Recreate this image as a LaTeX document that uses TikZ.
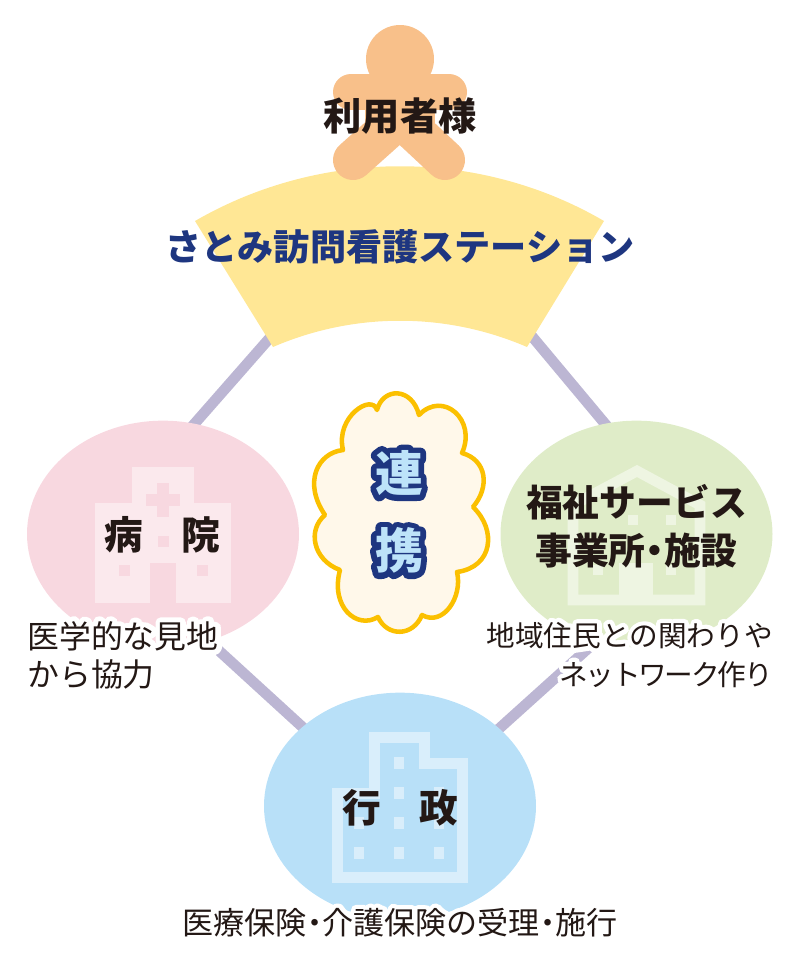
\documentclass[tikz,border=0pt]{standalone}
\usepackage{fontspec}
\usepackage{xcolor}
\usetikzlibrary{shapes.geometric, backgrounds}
\newfontfamily\jpfont{Noto Sans CJK JP}
\newfontfamily\jptight[LetterSpace=-8]{Noto Sans CJK JP}
\newfontfamily\jphalo[FakeBold=32]{Noto Sans CJK JP}
\newfontfamily\jphalotight[FakeBold=32, LetterSpace=-8]{Noto Sans CJK JP}
\newfontfamily\jpedge[FakeBold=24]{Noto Sans CJK JP}
\definecolor{skinc}{HTML}{F8C08A}
\definecolor{fanc}{HTML}{FFE795}
\definecolor{linkc}{HTML}{BCB6D3}
\definecolor{navyc}{HTML}{1E3680}
\definecolor{inkc}{HTML}{231815}
\definecolor{pinkc}{HTML}{F8D8E0}
\definecolor{pinklt}{HTML}{FBE9ED}
\definecolor{greenc}{HTML}{DFECC8}
\definecolor{greenlt}{HTML}{EEF5E2}
\definecolor{bluec}{HTML}{B8E0F8}
\definecolor{bluelt}{HTML}{D9EEFB}
\definecolor{cloudc}{HTML}{FFF8EA}
\definecolor{cloudedge}{HTML}{FBC000}
\definecolor{renkeic}{HTML}{BDE3F9}
\newcommand{\halotext}[1]{\rlap{\jphalo\color{white}#1}#1}
\newcommand{\halotight}[1]{\rlap{\jphalotight\color{white}#1}{\jptight #1}}
\newcommand{\dotmark}{\kern-.25em・\kern-.25em}
\begin{document}
\begin{tikzpicture}[
        x=0.75pt, y=-0.75pt, % coordinates are reference pixels
        line join=round,
        area/.style={ellipse, inner sep=0pt, minimum width=204pt, minimum height=170pt},
        title/.style={font=\jpfont\bfseries\fontsize{27.6}{36}\selectfont, text=inkc, align=center, inner sep=0pt},
        caption/.style={font=\jpfont\fontsize{23.9}{29}\selectfont, text=inkc, inner sep=0pt},
        linkline/.style={linkc, line width=8pt, shorten <=-4pt, shorten >=-4pt},
        limb/.style={skinc, line cap=round},
    ]
        \useasboundingbox (0,0) rectangle (800,967);

        % --- 1. Station fan ---
        \fill[fanc] (195,221) .. controls (321,148) and (479,148) .. (604,221)
            -- (527,347) .. controls (446,312) and (354,312) .. (273,347) -- cycle;
        \coordinate (fanLeft) at (275,332);
        \coordinate (fanRight) at (525,328);

        % --- 2. Person on top of the fan ---
        \fill[skinc] (400,59) circle (34);
        \fill[skinc] (365,90) rectangle (435,130);
        \draw[limb, line width=27pt] (351,92) -- (449,92);
        \draw[limb, line width=30pt] (400,118) -- (353,160);
        \draw[limb, line width=30pt] (400,118) -- (445,160);

        % --- 3. The three areas ---
        \node[area, fill=pinkc] (hospital) at (163,534) {};
        \node[area, fill=greenc] (welfare) at (636.5,534) {};
        \node[area, fill=bluec] (city) at (400,806) {};

        % --- 4. Connectors behind everything ---
        \begin{scope}[on background layer]
            \draw[linkline] (fanLeft) -- (hospital.74);
            \draw[linkline] (fanRight) -- (welfare.106);
            \draw[linkline] (hospital.-67) -- (city.141.5);
            \draw[linkline] (welfare.-111.5) -- (city.38.5);
        \end{scope}

        % --- 5. Hospital icon ---
        \fill[pinklt] (95,503) rectangle (231,603);
        \fill[pinklt] (132,467) rectangle (194,503);
        \fill[pinkc] (157,483) rectangle (169,517);
        \fill[pinkc] (146,494) rectangle (180,506);
        \fill[pinkc] (150,563) rectangle (176,603);
        \foreach \x/\y in {163/541, 124/570, 202/570} {
            \fill[pinkc] (\x-5.5,\y-5.5) rectangle ++(11,11);
        }

        % --- 6. House icon ---
        \draw[greenlt, line width=8pt, line join=miter] (573,600) -- (573,505) -- (637,471) -- (700,505) -- (700,600) -- cycle;
        \fill[greenlt] (619,563) rectangle (653,600);
        \foreach \x/\y in {633/520, 671/520, 598/570, 671/570} {
            \fill[greenlt] (\x-5,\y-5) rectangle ++(10,10);
        }

        % --- 7. Office icon ---
        \draw[bluelt, line width=8.5pt, line join=miter] (337.5,877.5) -- (337.5,793.5) -- (374.5,793.5) -- (374.5,737.5)
            -- (424.5,737.5) -- (424.5,763.5) -- (462.5,763.5) -- (462.5,877.5) -- cycle;
        \foreach \x/\y in {399/763, 399/793, 439/793, 359/823, 399/823, 439/823, 359/853, 399/853, 439/853} {
            \fill[bluelt] (\x-5,\y-6) rectangle ++(10,12);
        }

        % --- 8. Cloud in the middle ---
        \draw[cloudedge, fill=cloudc, line width=3.4pt]
            (343,450) .. controls (335,417) and (372,393) .. (377,410)
            .. controls (383,387) and (412,387) .. (419,415)
            .. controls (443,390) and (477,420) .. (462,453)
            .. controls (487,460) and (490,487) .. (473,507)
            .. controls (497,530) and (493,567) .. (457,572)
            .. controls (463,597) and (443,627) .. (422,615)
            .. controls (413,637) and (387,637) .. (378,617)
            .. controls (357,630) and (330,607) .. (340,570)
            .. controls (313,560) and (307,530) .. (325,515)
            .. controls (303,483) and (317,453) .. cycle;

        % --- 9. Labels ---
        \node[title, font=\jpfont\bfseries\fontsize{28.7}{36}\selectfont] (user) at (400,116) {利用者様};
        \node[title, font=\jpfont\bfseries\fontsize{27.1}{36}\selectfont, text=navyc] (station) at (400,247) {さとみ訪問看護ステーション};
        \node[title, font=\jpfont\bfseries\fontsize{29}{36}\selectfont] (hospitalName) at (162.5,535) {病\hspace{1em}院};
        \node[title] (welfareName) at (636.5,526) {福祉サービス\\事業所\dotmark 施設};
        \node[title, font=\jpfont\bfseries\fontsize{29}{36}\selectfont] (cityName) at (400,808) {行\hspace{1em}政};
        \node[font=\jpfont\bfseries\fontsize{36}{58}\selectfont, text=renkeic, align=center, inner sep=0pt] (renkei) at (399,512)
            {\rlap{\jpedge\color{navyc}連}連\\\rlap{\jpedge\color{navyc}携}携};

        \node[caption, anchor=north west, align=left] (hospitalNote) at (27,621)
            {\halotext{医学的な見地}\\\halotext{から協力}};
        \node[caption, font=\jpfont\fontsize{21.5}{29}\selectfont, anchor=north east, align=right] (welfareNote) at (773,622)
            {\halotext{地域住民との関わりや}\\\halotight{ネットワーク作り}};
        \node[caption, font=\jpfont\fontsize{23.3}{29}\selectfont] (cityNote) at (400,923)
            {\halotext{医療保険\dotmark 介護保険の受理\dotmark 施行}};

    \end{tikzpicture}
\end{document}
